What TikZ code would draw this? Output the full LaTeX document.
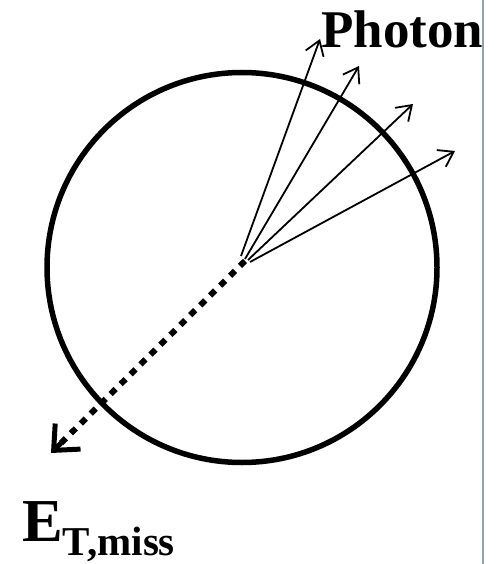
\documentclass[tikz,border=0pt]{standalone}
\usepackage{fontspec}
\setmainfont{Liberation Serif}
\usetikzlibrary{arrows.meta,calc}
\begin{document}
\begin{tikzpicture}[x=1pt,y=-1pt,
  photon/.style={line width=1.8pt,-{Straight Barb[length=14pt,width=19pt,line width=1.8pt]}},
  met/.style={line width=6pt,dash pattern=on 7pt off 7pt},
  mettip/.style={line width=5pt,-{Straight Barb[length=20pt,width=36pt,line width=5pt]}},
  lbl/.style={inner sep=0pt,font=\bfseries}]
\useasboundingbox (0,0) rectangle (497,564);
\fill[white] (0,0) rectangle (497,564);
\draw[line width=1.5pt,color={rgb,255:red,143;green,163;blue,168}] (483,0) -- (483,564);
\node[draw,circle,line width=5.5pt,minimum size=390pt,inner sep=0pt] (det) at (242,267.5) {};
\coordinate (o) at (245,261);
\coordinate (o1) at (241,256);
\coordinate (o2) at (245,259);
\coordinate (o3) at (248,260);
\coordinate (o4) at (250,262);
\coordinate (p1) at (320,39);
\coordinate (p2) at (359,66);
\coordinate (p3) at (413,104);
\coordinate (p4) at (455,151);
\coordinate (m) at (51,453);
\coordinate (mt) at ($(m)!14pt!(o)$);
\draw[photon] (o1) -- (p1);
\draw[photon] (o2) -- (p2);
\draw[photon] (o3) -- (p3);
\draw[photon] (o4) -- (p4);
\draw[met,shorten >=14pt] (o) -- (m);
\draw[mettip] (mt) -- (m);
\node[lbl,anchor=base west,font=\fontsize{53}{53}\selectfont\bfseries] (ph) at (321,48) {Photon};
\node[lbl,anchor=base west,font=\fontsize{61}{61}\selectfont\bfseries] (et) at (22,541) {E\raisebox{-14pt}{\fontsize{41}{41}\selectfont T,miss}};
\end{tikzpicture}
\end{document}
